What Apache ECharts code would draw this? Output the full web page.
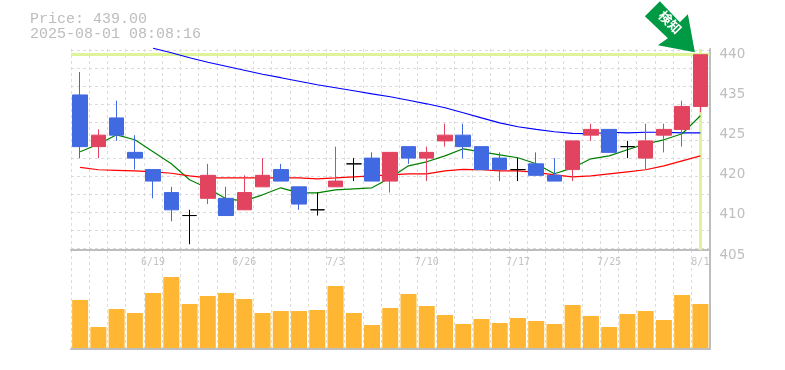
<!DOCTYPE html>
<html>
<head>
<meta charset="utf-8">
<style>
  html, body { margin: 0; padding: 0; background: #fff; }
  #chart { width: 785px; height: 370px; }
</style>
<script src="https://cdn.jsdelivr.net/npm/echarts@6/dist/echarts.min.js"></script>
</head>
<body>
<div id="chart"></div>
<script>
const dates = ['6/13','6/16','6/17','6/18','6/19','6/20','6/23','6/24','6/25','6/26','6/27','6/30','7/1','7/2','7/3','7/4','7/7','7/8','7/9','7/10','7/11','7/14','7/15','7/16','7/17','7/18','7/22','7/23','7/24','7/25','7/28','7/29','7/30','7/31','8/1'];
const opens  = [432,423,428,422,419,415,411,414,414,412,416,419,416,412,416,420,421,417,423,421,424,425,423,421,419,420,418,419,425,426,423,421,425,426,430];
const closes = [423,425,425,421,417,412,411,418,411,415,418,417,413,412,417,420,417,422,421,422,425,423,419,419,419,418,417,424,426,422,423,424,426,430,439];
const lows   = [421,421,424,419,414,410,406,413,411,412,416,417,412,411,416,417,417,415,420,417,423,421,419,417,417,418,417,417,424,422,421,419,422,423,429];
const highs  = [436,426,431,425,419,416,412,420,416,418,421,420,416,415,423,421,422,422,423,423,427,427,423,422,421,422,421,424,427,426,424,427,427,431,439];
const volumes = [48,21,39,35,55,71,44,52,55,49,35,37,37,38,62,35,23,40,54,42,33,24,29,25,30,27,24,43,32,21,34,37,28,53,44];
const maShort = [422.1,423.41,425.06,424.19,422.1,420.01,417.22,415.74,413.91,413.56,414.61,415.83,414.96,414.96,415.48,415.66,415.83,417.57,419.66,420.36,421.4,422.62,422.1,421.58,421.06,420.01,418.27,419.31,420.88,421.4,422.45,423.49,424.19,425.24,428.37];
const maMid = [419.4,418.97,418.88,418.79,418.62,418.36,417.92,417.57,417.57,417.57,417.57,417.57,417.57,417.4,417.57,417.75,417.92,418.09,418.27,418.27,418.79,419.05,418.97,418.79,418.79,418.53,418.09,417.75,417.92,418.27,418.62,418.97,419.66,420.53,421.4];
const maLong = [null,null,null,null,440.13,439.35,438.48,437.69,437.0,436.3,435.6,435.0,434.38,433.77,433.25,432.73,432.2,431.68,431.07,430.46,429.77,428.9,428.0,427.15,426.46,426.02,425.59,425.32,425.24,425.5,425.41,425.5,425.5,425.41,425.41];
// the source chart rounds its labels down to fives, so positions and texts differ
const priceTickValues = [405,412,419,426,433,440];
const priceTickLabels = ['405','410','420','425','435','440'];
const currentPrice = 439;
const currentDate = '8/1';
const infoText = 'Price: 439.00\n2025-08-01 08:08:16';
const signalText = '検知';

const gray = '#BEBEBE';
const dashLine = { show: true, lineStyle: { color: '#DCDCDC', width: 1, type: [3, 3] } };
const arrowPath = 'path://M15 0L35 21L43 13L50 51L13 44L23 37L0 15Z';

let option = {
    animation: false,
    backgroundColor: '#ffffff',
    title: {
        text: infoText,
        left: 25,
        top: 7,
        textStyle: {
            fontFamily: 'Liberation Mono',
            fontSize: 15,
            fontWeight: 'normal',
            lineHeight: 15,
            color: '#BDBDBD'
        }
    },
    grid: [
        { left: 71, width: 638.5, top: 49, height: 201 },
        { left: 71, width: 638.5, top: 250, height: 99 },
        { left: 71, width: 638.5, top: 50, height: 198 }
    ],
    xAxis: [
        {
            type: 'category',
            gridIndex: 0,
            data: dates,
            axisLine: { lineStyle: { color: gray, width: 2 } },
            axisTick: { show: false },
            splitLine: { ...dashLine, interval: 0 },
            axisLabel: {
                interval: (i) => i % 5 === 4,
                margin: 7,
                fontFamily: 'DejaVu Sans Mono',
                fontSize: 10,
                color: '#C4C4C4'
            }
        },
        {
            type: 'category',
            gridIndex: 1,
            data: dates,
            axisLine: { onZero: false, lineStyle: { color: gray, width: 2 } },
            axisTick: { show: false },
            axisLabel: { show: false },
            splitLine: { ...dashLine, interval: 0 }
        },
        { type: 'category', gridIndex: 2, show: false, data: dates }
    ],
    yAxis: [
        {
            type: 'value',
            gridIndex: 0,
            position: 'right',
            min: 405,
            max: 440,
            axisLine: { show: true, lineStyle: { color: gray, width: 2 } },
            axisTick: { show: false },
            splitLine: { show: false },
            axisLabel: {
                customValues: priceTickValues,
                formatter: (v) => priceTickLabels[priceTickValues.indexOf(v)],
                margin: 10,
                verticalAlign: 'top',
                lineHeight: 10,
                fontFamily: 'DejaVu Sans',
                fontSize: 13.5,
                color: gray
            }
        },
        {
            type: 'value',
            gridIndex: 1,
            position: 'right',
            min: -1,
            max: 98,
            axisLine: { show: true, lineStyle: { color: gray, width: 2 } },
            axisTick: { show: false },
            axisLabel: { show: false },
            splitLine: { show: false }
        },
        {
            type: 'value',
            gridIndex: 2,
            min: 0,
            max: 11,
            interval: 1,
            axisLine: { show: false },
            axisTick: { show: false },
            axisLabel: { show: false },
            splitLine: dashLine
        }
    ],
    series: [
        {
            type: 'line',
            name: 'long',
            xAxisIndex: 0,
            yAxisIndex: 0,
            data: maLong,
            symbol: 'none',
            clip: false,
            z: 3,
            lineStyle: { color: '#0000FF', width: 1.2 },
            markLine: {
                silent: true,
                z: 1,
                symbol: 'none',
                label: { show: false },
                lineStyle: { color: '#DFF39B', width: 3, type: 'solid' },
                data: [{ yAxis: currentPrice }, { xAxis: currentDate }]
            }
        },
        {
            type: 'line',
            name: 'short',
            xAxisIndex: 0,
            yAxisIndex: 0,
            data: maShort,
            symbol: 'none',
            z: 3,
            lineStyle: { color: '#008000', width: 1.2 }
        },
        {
            type: 'line',
            name: 'mid',
            xAxisIndex: 0,
            yAxisIndex: 0,
            data: maMid,
            symbol: 'none',
            z: 3,
            lineStyle: { color: '#FF0000', width: 1.2 }
        },
        {
            type: 'candlestick',
            xAxisIndex: 0,
            yAxisIndex: 0,
            barWidth: 15,
            z: 4,
            data: dates.map((d, i) => [opens[i], closes[i], lows[i], highs[i]]),
            itemStyle: {
                color: '#E2435F',
                color0: '#4169E1',
                borderColor: '#E2435F',
                borderColor0: '#4169E1',
                borderColorDoji: '#000000',
                borderWidth: 1
            },
            markPoint: {
                silent: true,
                z: 6,
                data: [{
                    coord: [currentDate, currentPrice],
                    symbol: arrowPath,
                    symbolKeepAspect: false,
                    symbolSize: [50, 51],
                    symbolOffset: [-30.5, -28],
                    itemStyle: { color: '#009944' },
                    label: {
                        show: true,
                        position: 'inside',
                        offset: [-3, -3.5],
                        rotate: -45,
                        formatter: signalText,
                        fontFamily: 'Noto Sans CJK JP',
                        fontSize: 13,
                        fontWeight: 'bold',
                        color: '#ffffff'
                    }
                }]
            }
        },
        {
            type: 'bar',
            xAxisIndex: 1,
            yAxisIndex: 1,
            barWidth: 16,
            data: volumes,
            itemStyle: { color: '#FFB733' }
        }
    ]
};

let myChart = echarts.init(document.getElementById('chart'));
option && myChart.setOption(option);
</script>
</body>
</html>
